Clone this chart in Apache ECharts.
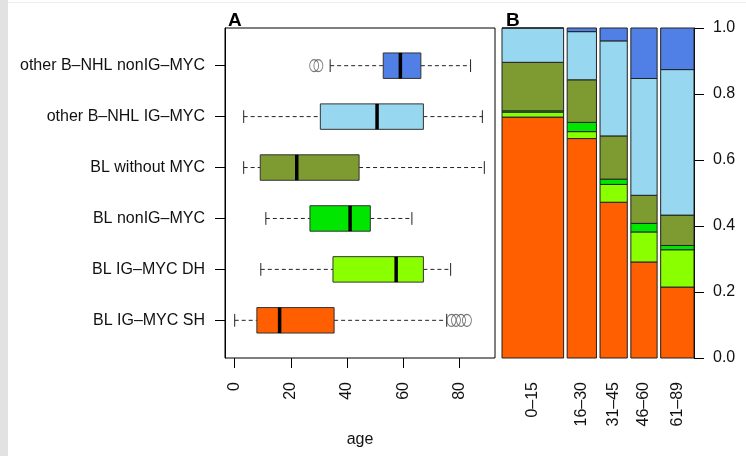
<!DOCTYPE html>
<html><head><meta charset="utf-8">
<script src="https://cdn.jsdelivr.net/npm/echarts@6/dist/echarts.min.js"></script>
<style>html,body{margin:0;padding:0;background:#fff}#c{width:746px;height:456px}</style>
</head><body><div id="c"></div><script>
// ---- Panel A: age distribution per group (bottom to top) ----
const groups = ['BL IG–MYC SH', 'BL IG–MYC DH', 'BL nonIG–MYC', 'BL without MYC', 'other B–NHL IG–MYC', 'other B–NHL nonIG–MYC'];
const groupColors = ['#FF5F00', '#8AFF00', '#00E600', '#7D9B30', '#98D7F0', '#5080E6'];
const whiskerLow  = [0.0, 9.3, 11.1, 3.2, 3.2, 34.0];
const q1          = [7.9, 35.0, 26.8, 9.1, 30.5, 52.9];
const median      = [16.0, 57.5, 41.1, 22.1, 50.7, 59.0];
const q3          = [35.4, 67.2, 48.3, 44.3, 67.2, 66.3];
const whiskerHigh = [75.5, 76.9, 63.1, 88.9, 88.2, 84.0];
const outliers    = [[77.2, 1], [78.8, 1], [80.6, 1], [82.7, 1], [28.3, 6], [29.8, 6]];
const ageTicks    = [0, 20, 40, 60, 80];

// ---- Panel B: group proportions per age class ----
const ageClasses = ['0–15', '16–30', '31–45', '46–60', '61–89'];
const classWidths = [61, 29, 27, 26, 33];           // relative bar widths (counts)
const propSH      = [0.730, 0.665, 0.472, 0.291, 0.215];
const propDH      = [0.015, 0.021, 0.054, 0.091, 0.113];
const propNonIG   = [0.004, 0.028, 0.016, 0.026, 0.013];
const propWithout = [0.147, 0.129, 0.131, 0.085, 0.092];
const propOtherIG = [0.104, 0.146, 0.288, 0.354, 0.441];
const propOtherNon= [0.000, 0.011, 0.039, 0.153, 0.126];

const FONT = '"Liberation Sans", Arial, sans-serif';
const FS = 16;

// boxplot data
const boxData = groups.map((g, i) => [i + 1, whiskerLow[i], q1[i], median[i], q3[i], whiskerHigh[i], i]);

// bar layout (R barplot style: space = 0.1 * mean width)
const props = [propSH, propDH, propNonIG, propWithout, propOtherIG, propOtherNon];
const meanW = classWidths.reduce((a, b) => a + b, 0) / classWidths.length;
const gap = 0.1 * meanW;
const barStart = [], barCenter = [];
let acc = 0;
classWidths.forEach((w, i) => {
  if (i > 0) acc += gap;
  barStart.push(acc); barCenter.push(acc + w / 2); acc += w;
});
const totalW = acc;
const segData = [];
ageClasses.forEach((c, i) => {
  let y0 = 0;
  props.forEach((arr, j) => {
    const y1 = y0 + arr[i];
    segData.push([barStart[i], barStart[i] + classWidths[i], y0, y1, j]);
    y0 = y1;
  });
});

const chart = echarts.init(document.getElementById('c'), null, {renderer: 'canvas'});
chart.setOption({
  animation: false,
  backgroundColor: '#fff',
  textStyle: {fontFamily: FONT},
  graphic: [
    {type: 'rect', shape: {x: 0, y: 0, width: 8, height: 456}, style: {fill: '#e2e2e2'}, silent: true},
    {type: 'line', shape: {x1: 8, y1: 2.5, x2: 746, y2: 2.5}, style: {stroke: '#ededed', lineWidth: 1}, silent: true}
  ],
  title: [
    {text: 'A', left: 223, top: 6, textStyle: {fontFamily: FONT, fontWeight: 'bold', fontSize: 19, color: '#000'}},
    {text: 'B', left: 501, top: 6, textStyle: {fontFamily: FONT, fontWeight: 'bold', fontSize: 19, color: '#000'}}
  ],
  grid: [
    {left: 225, top: 28, width: 270, height: 330, show: true, borderColor: '#000', borderWidth: 1, backgroundColor: 'transparent'},
    {left: 502, top: 28, width: 192, height: 330}
  ],
  xAxis: [
    {gridIndex: 0, type: 'value', min: -3.45, max: 92.7, splitLine: {show: false},
     axisLine: {show: false, onZero: false},
     axisTick: {show: true, inside: false, customValues: ageTicks, length: 10, lineStyle: {color: '#000', width: 1}},
     axisLabel: {customValues: ageTicks, rotate: 90, margin: 24, fontSize: FS, color: '#111', fontFamily: FONT},
     name: 'age', nameLocation: 'middle', nameGap: 74,
     nameTextStyle: {fontSize: FS, color: '#111', fontFamily: FONT}},
    {gridIndex: 1, type: 'value', min: 0, max: totalW, splitLine: {show: false},
     axisLine: {show: false, onZero: false}, axisTick: {show: false},
     axisLabel: {customValues: barCenter, rotate: 90, margin: 24, fontSize: FS, color: '#111', fontFamily: FONT,
       formatter: (v) => {
         let best = 0;
         barCenter.forEach((c, i) => { if (Math.abs(c - v) < Math.abs(barCenter[best] - v)) best = i; });
         return ageClasses[best];
       }}}
  ],
  yAxis: [
    {gridIndex: 0, type: 'value', min: 0.26, max: 6.74, splitLine: {show: false},
     axisLine: {show: true, onZero: false, lineStyle: {color: '#000', width: 1}},
     axisTick: {show: true, inside: false, customValues: [1, 2, 3, 4, 5, 6], length: 10, lineStyle: {color: '#000'}},
     axisLabel: {customValues: [1, 2, 3, 4, 5, 6], margin: 20, fontSize: FS, color: '#111', fontFamily: FONT,
       formatter: (v) => groups[Math.round(v) - 1]}},
    {gridIndex: 1, type: 'value', position: 'right', min: 0, max: 1, interval: 0.2, splitLine: {show: false},
     axisLine: {show: true, onZero: false, lineStyle: {color: '#000', width: 1}},
     axisTick: {show: true, inside: false, length: 10, lineStyle: {color: '#000'}},
     axisLabel: {margin: 19, fontSize: FS, color: '#111', fontFamily: FONT, formatter: (v) => v.toFixed(1)}}
  ],
  series: [
    {
      type: 'custom', xAxisIndex: 0, yAxisIndex: 0, data: boxData,
      encode: {x: [1, 2, 3, 4, 5], y: 0},
      renderItem: function (params, api) {
        const y = api.value(0);
        const idx = api.value(6);
        const h = api.size([0, 0.5])[1];
        const pWl = api.coord([api.value(1), y]);
        const pQ1 = api.coord([api.value(2), y]);
        const pMd = api.coord([api.value(3), y]);
        const pQ3 = api.coord([api.value(4), y]);
        const pWh = api.coord([api.value(5), y]);
        const cy = pMd[1];
        const dash = {stroke: '#222', lineWidth: 1, lineDash: [4, 3]};
        const solid = {stroke: '#222', lineWidth: 1};
        return {
          type: 'group',
          children: [
            {type: 'line', shape: {x1: pWl[0], y1: cy, x2: pQ1[0], y2: cy}, style: dash},
            {type: 'line', shape: {x1: pQ3[0], y1: cy, x2: pWh[0], y2: cy}, style: dash},
            {type: 'line', shape: {x1: pWl[0], y1: cy - h / 4, x2: pWl[0], y2: cy + h / 4}, style: solid},
            {type: 'line', shape: {x1: pWh[0], y1: cy - h / 4, x2: pWh[0], y2: cy + h / 4}, style: solid},
            {type: 'rect', shape: {x: pQ1[0], y: cy - h / 2, width: pQ3[0] - pQ1[0], height: h},
             style: {fill: groupColors[idx], stroke: '#333', lineWidth: 1}},
            {type: 'line', shape: {x1: pMd[0], y1: cy - h / 2, x2: pMd[0], y2: cy + h / 2},
             style: {stroke: '#000', lineWidth: 3.5}}
          ]
        };
      }
    },
    {
      type: 'scatter', xAxisIndex: 0, yAxisIndex: 0, data: outliers,
      symbol: 'circle', symbolSize: [9, 12],
      itemStyle: {color: 'rgba(0,0,0,0)', borderColor: '#555', borderWidth: 1}
    },
    {
      type: 'custom', xAxisIndex: 1, yAxisIndex: 1, data: segData,
      encode: {x: [0, 1], y: [2, 3]},
      renderItem: function (params, api) {
        const p0 = api.coord([api.value(0), api.value(2)]);
        const p1 = api.coord([api.value(1), api.value(3)]);
        const j = api.value(4);
        return {
          type: 'rect',
          shape: {x: p0[0], y: p1[1], width: p1[0] - p0[0], height: p0[1] - p1[1]},
          style: {fill: groupColors[j], stroke: '#222', lineWidth: 1}
        };
      }
    }
  ]
});
</script></body></html>
